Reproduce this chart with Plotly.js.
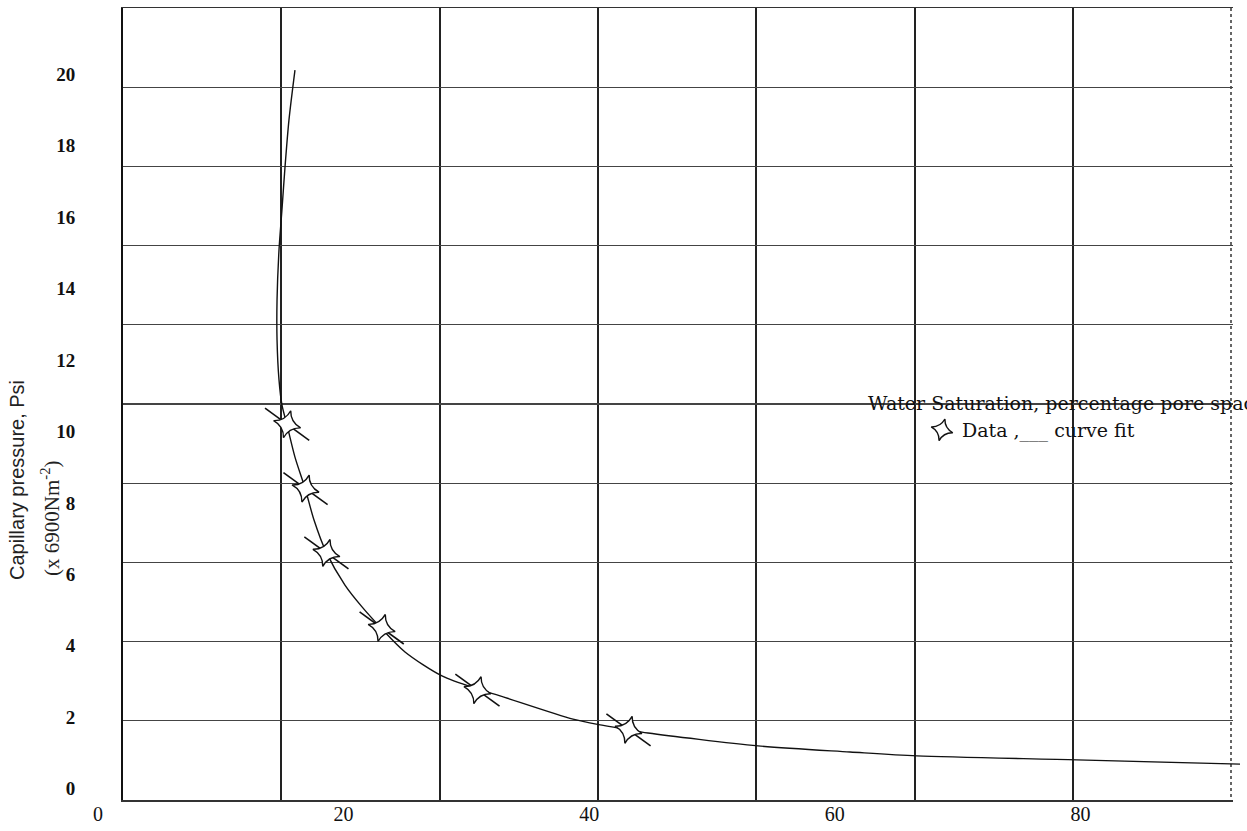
<!DOCTYPE html>
<html>
<head>
<meta charset="utf-8">
<script src="https://cdn.plot.ly/plotly-3.0.1.min.js"></script>
<style>
html, body { margin: 0; padding: 0; background: #ffffff; }
#chart { width: 1247px; height: 831px; }
</style>
</head>
<body>
<div id="chart"></div>
<script>
// ---- Data (water saturation %, capillary pressure psi) ----
const dataSaturation = [15.4, 16.9, 18.6, 23.1, 30.9, 43.2];
const dataPressure   = [10.2, 8.4, 6.6, 4.5, 2.76, 1.65];

const fitSaturation = [16.04, 15.55, 15.23, 14.98, 14.74, 14.58, 14.58, 14.74, 14.98, 15.39, 16.04, 16.86, 17.59, 18.57, 20.11, 21.50, 23.05, 25.0, 28.01, 30.94, 32.74, 38.68, 41.04, 43.16, 44.79, 53.75, 61.24, 66.69, 79.72, 93.0];
const fitPressure   = [20.11, 18.71, 17.40, 16.20, 15.08, 13.68, 12.56, 11.44, 10.74, 10.18, 9.28, 8.41, 7.52, 6.63, 5.70, 5.09, 4.50, 3.83, 3.16, 2.79, 2.60, 1.95, 1.78, 1.65, 1.56, 1.20, 1.03, 0.92, 0.81, 0.69];

const xTickVals = [0, 20, 40, 60, 80];
const xTickText = ['0', '20', '40', '60', '80'];
const yTickVals = [0, 2, 4, 6, 8, 10, 12, 14, 16, 18, 20];
const yTickText = ['0', '2', '4', '6', '8', '10', '12', '14', '16', '18', '20'];

const legendLabel = 'Data ,___ curve fit';
const xTitle = 'Water Saturation, percentage pore space';
const yTitleLine1 = 'Capillary pressure, Psi';
const yTitleLine2 = '(x 6900Nm<sup>-2</sup>)';

// grid divisions of the drawn frame
const gridCols = [1, 2, 3, 4, 5, 6];
const gridRight = [7];
const gridRows = [1, 2, 3, 4, 5, 6, 7, 8, 9];

// ---- Layout geometry ----
const W = 1247, H = 831;
const fx = p => p / W;
const fy = p => 1 - p / H;

const traces = [
  // empty trace so the grid subplot exists
  { x: [], y: [], xaxis: 'x', yaxis: 'y', type: 'scatter', mode: 'markers', showlegend: false, hoverinfo: 'skip' },
  {
    x: fitSaturation, y: fitPressure, xaxis: 'x2', yaxis: 'y2',
    type: 'scatter', mode: 'lines', showlegend: false,
    line: { color: '#111111', width: 1.4, shape: 'spline', smoothing: 0.8 }
  },
  {
    x: dataSaturation, y: dataPressure, xaxis: 'x2', yaxis: 'y2',
    type: 'scatter', mode: 'markers', showlegend: false,
    marker: { symbol: 'line-ew', size: 39, angle: 36, color: '#111111', line: { color: '#111111', width: 1.6 } }
  },
  {
    x: dataSaturation, y: dataPressure, xaxis: 'x2', yaxis: 'y2',
    type: 'scatter', mode: 'markers', name: legendLabel, showlegend: true,
    marker: { symbol: 'star-diamond', size: 20, angle: 15, color: '#ffffff', line: { color: '#111111', width: 1.4 } }
  }
];

const layout = {
  width: W, height: H,
  margin: { l: 0, r: 0, t: 0, b: 0 },
  paper_bgcolor: '#ffffff',
  plot_bgcolor: 'rgba(0,0,0,0)',
  showlegend: true,
  xaxis: {
    domain: [fx(123), fx(1233)], range: [0, 7.012],
    tickmode: 'array', tickvals: gridCols,
    showgrid: true, gridcolor: '#222222', gridwidth: 2,
    minor: { tickmode: 'array', tickvals: gridRight, showgrid: true, griddash: 'dot', gridcolor: '#666666', gridwidth: 1.5, ticks: '' },
    zeroline: false, showline: true, mirror: true, linecolor: '#333333', linewidth: 1.5,
    showticklabels: false, ticks: '', fixedrange: true
  },
  yaxis: {
    domain: [fy(800), fy(8)], range: [0, 10],
    tickmode: 'array', tickvals: gridRows,
    showgrid: true, gridcolor: '#444444', gridwidth: 1.2,
    zeroline: false, showline: true, mirror: false, linecolor: '#111111', linewidth: 2,
    showticklabels: false, ticks: '', fixedrange: true
  },
  xaxis2: {
    domain: [fx(82), 1], range: [(82 - 98) / 12.28, (1247 - 98) / 12.28], anchor: 'y2',
    tickmode: 'array', tickvals: xTickVals, ticktext: xTickText,
    showgrid: false, zeroline: false, showline: false, ticks: '',
    tickfont: { family: 'Liberation Serif', size: 20, color: '#111111' }, fixedrange: true
  },
  yaxis2: {
    domain: [fy(800), fy(8)], range: [(788.8 - 800) / 35.74, (788.8 - 8) / 35.74], anchor: 'x2',
    tickmode: 'array', tickvals: yTickVals, ticktext: yTickText,
    showgrid: false, zeroline: false, showline: false,
    ticks: 'outside', ticklen: 2, tickcolor: 'rgba(0,0,0,0)',
    tickfont: { family: 'Liberation Serif', size: 19, color: '#111111', weight: 'bold' }, fixedrange: true
  },
  legend: {
    x: fx(922), xanchor: 'left', y: fy(430), yanchor: 'middle',
    bgcolor: 'rgba(0,0,0,0)', borderwidth: 0,
    font: { family: 'DejaVu Serif', size: 19, color: '#111111' }
  },
  annotations: [
    {
      xref: 'paper', yref: 'paper', x: fx(866), y: fy(403), xanchor: 'left', yanchor: 'middle',
      text: xTitle, showarrow: false,
      font: { family: 'DejaVu Serif', size: 19, color: '#111111' }
    },
    {
      xref: 'paper', yref: 'paper', x: fx(17), y: fy(582), xanchor: 'center', yanchor: 'bottom',
      text: yTitleLine1, showarrow: false, textangle: -90,
      font: { family: 'Liberation Sans', size: 20, color: '#222222' }
    },
    {
      xref: 'paper', yref: 'paper', x: fx(50), y: fy(578), xanchor: 'center', yanchor: 'bottom',
      text: yTitleLine2, showarrow: false, textangle: -90,
      font: { family: 'Liberation Serif', size: 21, color: '#222222' }
    }
  ]
};

Plotly.newPlot('chart', traces, layout, { displayModeBar: false, staticPlot: true });
</script>
</body>
</html>
